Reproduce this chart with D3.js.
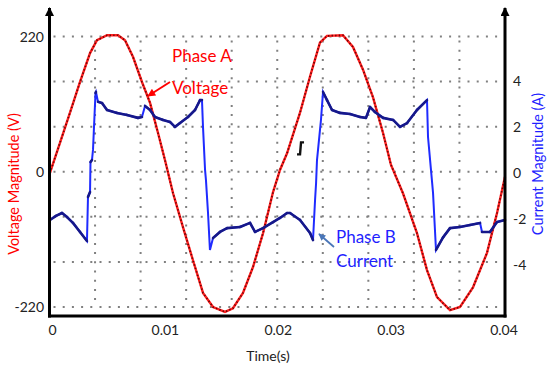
<!DOCTYPE html>
<html>
<head>
<meta charset="utf-8">
<script src="https://cdn.jsdelivr.net/npm/d3@7"></script>
<style>
  body { margin: 0; background: #fff; }
  svg { font-family: Lato, "Noto Sans", sans-serif; }
</style>
</head>
<body>
<div id="chart"></div>
<script>
// phase A voltage (time in s, volts)
var voltTime = [0.00004, 0.00092, 0.00180, 0.00268, 0.00356, 0.00417, 0.00505, 0.00602, 0.00663, 0.00733,
    0.00812, 0.00883, 0.00953, 0.01014, 0.01085, 0.01172, 0.01260, 0.01348, 0.01436, 0.01541,
    0.01611, 0.01699, 0.01787, 0.01875, 0.01963, 0.02024, 0.02086, 0.02200, 0.02288, 0.02375,
    0.02437, 0.02577, 0.02665, 0.02753, 0.02841, 0.02929, 0.02999, 0.03104, 0.03227, 0.03315,
    0.03403, 0.03517, 0.03605, 0.03719, 0.03842, 0.03930, 0.04000];
var voltValue = [-2, 47, 96, 146, 193, 214, 222, 222, 214, 187,
    146, 112, 63, 19, -35, -90, -144, -197, -220, -228,
    -222, -197, -155, -100, -33, 3, 30, 96, 155, 210,
    221, 222, 203, 166, 121, 63, 11, -35, -100, -160,
    -204, -225, -220, -188, -132, -67, -8];

// phase B current (time in s, amps)
var currTime = [0.00004, 0.00057, 0.00110, 0.00154, 0.00206, 0.00268, 0.00329, 0.00338, 0.00356, 0.00360,
    0.00373, 0.00382, 0.00404, 0.00408, 0.00426, 0.00461, 0.00505, 0.00593, 0.00681, 0.00777,
    0.00812, 0.00839, 0.00883, 0.00926, 0.00997, 0.01058, 0.01102, 0.01146, 0.01216, 0.01278,
    0.01322, 0.01339, 0.01348, 0.01366, 0.01374, 0.01392, 0.01409, 0.01436, 0.01497, 0.01559,
    0.01673, 0.01761, 0.01805, 0.01875, 0.01963, 0.02024, 0.02086, 0.02112, 0.02200, 0.02288,
    0.02314, 0.02332, 0.02341, 0.02349, 0.02358, 0.02384, 0.02402, 0.02437, 0.02481, 0.02551,
    0.02639, 0.02727, 0.02779, 0.02815, 0.02858, 0.02929, 0.03017, 0.03078, 0.03140, 0.03227,
    0.03315, 0.03324, 0.03350, 0.03368, 0.03394, 0.03456, 0.03517, 0.03605, 0.03693, 0.03781,
    0.03798, 0.03868, 0.03930, 0.04000];
var currValue = [-2.14, -1.96, -1.83, -2.01, -2.27, -2.67, -3.07, -1.12, -0.90, 0.43,
    0.52, 0.97, 3.49, 3.54, 3.10, 3.05, 2.74, 2.61, 2.52, 2.39,
    2.43, 2.92, 2.74, 2.43, 2.30, 2.21, 1.99, 2.16, 2.43, 2.74,
    3.18, 3.18, 1.99, 0.08, -0.37, -1.83, -3.47, -2.94, -2.67, -2.50,
    -2.45, -2.27, -2.67, -2.50, -2.23, -2.05, -1.83, -1.83, -2.14, -2.72,
    -3.03, -1.25, -0.50, 0.52, 0.97, 2.30, 3.54, 3.18, 2.74, 2.61,
    2.56, 2.43, 2.39, 2.87, 2.65, 2.39, 2.30, 1.99, 2.16, 2.74,
    3.18, 1.54, 0.08, -0.94, -3.47, -2.91, -2.50, -2.45, -2.36, -2.27,
    -2.67, -2.67, -2.23, -2.14];

// tick labels
var timeTicks = [0, 0.01, 0.02, 0.03, 0.04];
var voltTicks = [220, 0, -220];
var currTicks = [4, 2, 0, -2, -4];
var voltGrid = [220, 146.67, 73.33, 0, -73.33, -146.67, -220];
var timeGrid = [0.004, 0.008, 0.012, 0.016, 0.02, 0.024, 0.028, 0.032, 0.036];

var width = 550, height = 368;

var svg = d3.select("#chart").append("svg")
    .attr("width", width)
    .attr("height", height);

var x = d3.scaleLinear().domain([0, 0.04]).range([49.5, 505]);
var yV = d3.scaleLinear().domain([-220, 220]).range([307, 36.5]);
var yI = d3.scaleLinear().domain([-6, 6]).range([307, 36.5]);

var defs = svg.append("defs");
function arrowMarker(id, color, w, h) {
    defs.append("marker")
        .attr("id", id)
        .attr("viewBox", "0 0 10 10")
        .attr("refX", 9).attr("refY", 5)
        .attr("markerWidth", w).attr("markerHeight", h)
        .attr("markerUnits", "userSpaceOnUse")
        .attr("orient", "auto")
        .append("path")
        .attr("d", "M0,0 L10,5 L0,10 z")
        .style("fill", color);
}
arrowMarker("axisHead", "#000", 10, 9);
arrowMarker("redHead", "#ff0000", 9, 8);
arrowMarker("blueHead", "#4a76b8", 8, 7);

// dotted grid
svg.selectAll()
    .data(voltGrid).enter()
    .append("line")
    .attr("x1", x(0) + 4).attr("x2", x(0.04))
    .attr("y1", d => yV(d)).attr("y2", d => yV(d))
    .style("stroke", "#808080")
    .style("stroke-width", 2)
    .style("stroke-dasharray", "2,7.2");

svg.selectAll()
    .data(timeGrid).enter()
    .append("line")
    .attr("x1", d => x(d)).attr("x2", d => x(d))
    .attr("y1", yV(220) + 4).attr("y2", yV(-220))
    .style("stroke", "#808080")
    .style("stroke-width", 2)
    .style("stroke-dasharray", "2,7.2");

// voltage trace
var voltData = voltTime.map((t, i) => ({t: t, v: voltValue[i]}));
var voltLine = d3.line().x(d => x(d.t)).y(d => yV(d.v));
svg.append("path")
    .datum(voltData)
    .attr("d", voltLine)
    .style("fill", "none")
    .style("stroke", "#ff1f1f")
    .style("stroke-width", 2.4);
svg.append("path")
    .datum(voltData)
    .attr("d", voltLine)
    .style("fill", "none")
    .style("stroke", "#6a0505")
    .style("stroke-width", 1.7)
    .style("stroke-dasharray", "1.4,2.2");

// current trace: bright blue on the jumps, dark blue elsewhere
var currData = currTime.map((t, i) => ({t: t, a: currValue[i]}));
var currLine = d3.line().x(d => x(d.t)).y(d => yI(d.a));
svg.append("path")
    .datum(currData)
    .attr("d", currLine)
    .style("fill", "none")
    .style("stroke", "#1f2bff")
    .style("stroke-width", 2);

var flatSegs = d3.pairs(currData).filter(function(p) {
    var dx = Math.abs(x(p[1].t) - x(p[0].t));
    var dy = Math.abs(yI(p[1].a) - yI(p[0].a));
    return dy < 3 * dx;
});
svg.selectAll()
    .data(flatSegs).enter()
    .append("line")
    .attr("x1", p => x(p[0].t)).attr("y1", p => yI(p[0].a))
    .attr("x2", p => x(p[1].t)).attr("y2", p => yI(p[1].a))
    .style("stroke", "#16188a")
    .style("stroke-width", 2.6)
    .style("stroke-linecap", "round");

// axes
svg.append("line")
    .attr("x1", x(0)).attr("x2", x(0))
    .attr("y1", 317.5).attr("y2", 8)
    .style("stroke", "#000").style("stroke-width", 3)
    .attr("marker-end", "url(#axisHead)");
svg.append("line")
    .attr("x1", x(0.04)).attr("x2", x(0.04))
    .attr("y1", 317.5).attr("y2", 8)
    .style("stroke", "#000").style("stroke-width", 3)
    .attr("marker-end", "url(#axisHead)");
svg.append("line")
    .attr("x1", x(0) - 1.5).attr("x2", x(0.04) + 1.5)
    .attr("y1", 316).attr("y2", 316)
    .style("stroke", "#000").style("stroke-width", 3);

// tick labels
svg.selectAll()
    .data(timeTicks).enter()
    .append("text")
    .attr("x", d => x(d) + 3 - d * 100)
    .attr("y", 335)
    .attr("text-anchor", "middle")
    .style("font-size", "14px")
    .style("fill", "#222")
    .text(d => d);

svg.selectAll()
    .data(voltTicks).enter()
    .append("text")
    .attr("x", 44)
    .attr("y", d => yV(d) + 5)
    .attr("text-anchor", "end")
    .style("font-size", "14px")
    .style("fill", "#222")
    .text(d => d);

svg.selectAll()
    .data(currTicks).enter()
    .append("text")
    .attr("x", 513)
    .attr("y", d => yI(d) + 6 - d * 0.5)
    .attr("text-anchor", "start")
    .style("font-size", "14px")
    .style("fill", "#222")
    .text(d => d);

// axis titles
svg.append("text")
    .attr("transform", "translate(19,184) rotate(-90)")
    .attr("text-anchor", "middle")
    .style("font-size", "14.5px")
    .style("fill", "#ff0000")
    .text("Voltage Magnitude (V)");

svg.append("text")
    .attr("transform", "translate(543,164) rotate(-90)")
    .attr("text-anchor", "middle")
    .style("font-size", "14.5px")
    .style("fill", "#1f1fff")
    .text("Current Magnitude (A)");

svg.append("text")
    .attr("x", 268).attr("y", 361)
    .attr("text-anchor", "middle")
    .style("font-size", "14px")
    .style("fill", "#222")
    .text("Time(s)");

// annotations
svg.append("text")
    .attr("x", 172).attr("y", 62)
    .style("font-size", "17px")
    .style("fill", "#ff0000")
    .text("Phase A");
svg.append("text")
    .attr("x", 172).attr("y", 94)
    .style("font-size", "17px")
    .style("fill", "#ff0000")
    .text("Voltage");
svg.append("line")
    .attr("x1", 170).attr("y1", 82)
    .attr("x2", 148).attr("y2", 96)
    .style("stroke", "#ff0000").style("stroke-width", 2)
    .attr("marker-end", "url(#redHead)");

svg.append("text")
    .attr("x", 336).attr("y", 243)
    .style("font-size", "17px")
    .style("fill", "#1f1fff")
    .text("Phase B");
svg.append("text")
    .attr("x", 336).attr("y", 267)
    .style("font-size", "17px")
    .style("fill", "#1f1fff")
    .text("Current");
svg.append("line")
    .attr("x1", 334).attr("y1", 247)
    .attr("x2", 319).attr("y2", 234)
    .style("stroke", "#4a76b8").style("stroke-width", 1.8)
    .attr("marker-end", "url(#blueHead)");

// trigger step mark
var stepMark = {t: 0.0220, v: 38};
svg.append("path")
    .attr("transform", "translate(" + x(stepMark.t) + "," + yV(stepMark.v) + ")")
    .attr("d", "M-3,6 L0,6 L1,-6 L4,-6")
    .style("fill", "none")
    .style("stroke", "#111")
    .style("stroke-width", 2.4);
</script>
</body>
</html>
